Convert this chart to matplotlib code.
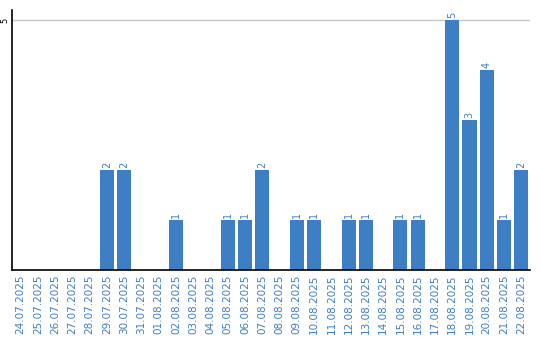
import matplotlib
matplotlib.use("Agg")
import matplotlib.pyplot as plt
import numpy as np

dates = [
    "24.07.2025", "25.07.2025", "26.07.2025", "27.07.2025", "28.07.2025",
    "29.07.2025", "30.07.2025", "31.07.2025", "01.08.2025", "02.08.2025",
    "03.08.2025", "04.08.2025", "05.08.2025", "06.08.2025", "07.08.2025",
    "08.08.2025", "09.08.2025", "10.08.2025", "11.08.2025", "12.08.2025",
    "13.08.2025", "14.08.2025", "15.08.2025", "16.08.2025", "17.08.2025",
    "18.08.2025", "19.08.2025", "20.08.2025", "21.08.2025", "22.08.2025",
]
counts = [0, 0, 0, 0, 0, 2, 2, 0, 0, 1, 0, 0, 1, 1, 2,
          0, 1, 1, 0, 1, 1, 0, 1, 1, 0, 5, 3, 4, 1, 2]

blue = "#3d7ec4"

fig = plt.figure(figsize=(5.4, 3.4), dpi=100)
ax = fig.add_axes([0.0222, 0.206, 0.959, 0.764])

x = np.arange(len(dates))
ax.bar(x, counts, width=0.82, color=blue, zorder=2)
for xi, c in zip(x, counts):
    if c > 0:
        ax.text(xi, c + 0.04, str(c), rotation=90, ha="center", va="bottom",
                color=blue, fontsize=7)

ax.axhline(5, color="#c8c8c8", lw=1, zorder=1)
ax.set_xlim(-0.5, len(dates) - 0.5)
ax.set_ylim(0, 5.2)
ax.set_yticks([5])
ax.set_yticklabels(["5"], rotation=90, va="center", ha="center", fontsize=6)
ax.set_xticks(x)
ax.set_xticklabels(dates, rotation=90, fontsize=7.5, color=blue)
ax.tick_params(length=0, pad=3)
ax.tick_params(axis="y", pad=5)
for s in ["top", "right"]:
    ax.spines[s].set_visible(False)
for s in ["left", "bottom"]:
    ax.spines[s].set_color("black")
    ax.spines[s].set_linewidth(1.2)

plt.savefig("out.png", dpi=100)
